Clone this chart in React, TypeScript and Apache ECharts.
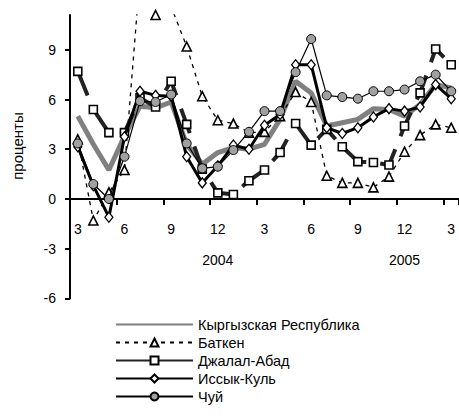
import React, { useEffect, useRef } from 'react';
import * as echarts from 'echarts';

const periods = ['2003-03','2003-04','2003-05','2003-06','2003-07','2003-08','2003-09','2003-10','2003-11','2003-12','2004-01','2004-02','2004-03','2004-04','2004-05','2004-06','2004-07','2004-08','2004-09','2004-10','2004-11','2004-12','2005-01','2005-02','2005-03'];
const monthLabels = ['3','4','5','6','7','8','9','10','11','12','1','2','3','4','5','6','7','8','9','10','11','12','1','2','3'];
const yearLabels: Record<number, string> = { 9: '2004', 21: '2005' };
const yTicks = [-6, -3, 0, 3, 6, 9];

const kyrgyz = [5.0, 3.3, 1.75, 3.8, 5.6, 5.5, 5.85, 3.3, 2.1, 2.8, 3.1, 3.0, 3.3, 4.8, 7.1, 6.4, 4.4, 4.6, 4.8, 5.45, 5.4, 5.0, 5.7, 6.9, 6.7];
const batken = [3.6, -1.3, 0.4, 1.75, 13.5, 11.1, 11.6, 9.2, 6.2, 4.75, 4.55, 4.0, 4.05, 5.0, 6.45, 5.85, 1.4, 0.97, 0.97, 0.7, 1.35, 2.85, 3.85, 4.5, 4.3];
const jalalAbad = [7.7, 5.4, 4.0, 4.0, 6.1, 5.55, 7.1, 4.5, 1.8, 0.37, 0.27, 1.1, 1.75, 2.8, 4.55, 3.25, 4.2, 3.15, 2.25, 2.2, 2.05, 4.4, 6.4, 9.05, 8.1];
const issykKul = [3.15, 0.8, -1.1, 3.75, 6.5, 6.25, 6.2, 2.55, 0.97, 2.0, 3.25, 3.0, 4.45, 5.1, 8.1, 8.1, 4.3, 3.95, 4.3, 4.95, 5.45, 5.3, 5.55, 6.9, 6.05];
const chui = [3.35, 0.9, 0.0, 2.55, 5.9, 5.85, 6.3, 3.35, 1.85, 1.95, 2.95, 4.05, 5.3, 5.3, 7.65, 9.65, 6.25, 6.15, 6.05, 6.5, 6.5, 6.6, 7.1, 7.5, 6.5];

const FONT = "'Liberation Sans', Arial, sans-serif";
const Y_MIN = -6;
const Y_MAX = 11.1;
const GRID_TOP = 15;
const GRID_H = 283.4;

export default function App() {
  const ref = useRef<HTMLDivElement>(null);
  useEffect(() => {
    if (!ref.current) return;
    const chart = echarts.init(ref.current, null, { renderer: 'svg' });
    const zeroOffset = -GRID_H * (0 - Y_MIN) / (Y_MAX - Y_MIN);
    const option: any = {
      animation: false,
      backgroundColor: '#ffffff',
      textStyle: { fontFamily: FONT, color: '#000' },
      grid: { left: 70, top: GRID_TOP, width: 395.8, height: GRID_H, containLabel: false },
      xAxis: {
        type: 'category',
        data: periods,
        boundaryGap: true,
        position: 'bottom',
        offset: zeroOffset,
        axisLine: { show: true, onZero: false, lineStyle: { color: '#000', width: 2 } },
        axisTick: { show: true, interval: 2, length: 6, lineStyle: { color: '#000', width: 2 } },
        axisLabel: {
          interval: 2,
          margin: 14.5,
          fontSize: 14,
          lineHeight: 31,
          fontFamily: FONT,
          color: '#000',
          formatter: (_v: string, i: number) => (yearLabels[i] ? `${monthLabels[i]}\n${yearLabels[i]}` : monthLabels[i]),
        },
        splitLine: { show: false },
      },
      yAxis: {
        type: 'value',
        min: Y_MIN,
        max: Y_MAX,
        interval: 3,
        axisLine: { show: true, lineStyle: { color: '#000', width: 2 } },
        axisTick: { show: true, length: 5, customValues: yTicks, lineStyle: { color: '#000', width: 2 } },
        axisLabel: { customValues: yTicks, margin: 14, fontSize: 14, fontFamily: FONT, color: '#000' },
        splitLine: { show: false },
      },
      legend: {
        orient: 'vertical',
        left: 110,
        top: 312,
        itemWidth: 77,
        itemHeight: 10,
        itemGap: 3,
        textStyle: { fontSize: 14.5, lineHeight: 15, fontFamily: FONT, color: '#000' },
        data: [
          { name: 'Кыргызская Республика', itemStyle: { opacity: 0 } },
          { name: 'Баткен' },
          { name: 'Джалал-Абад', lineStyle: { type: 'solid' } },
          { name: 'Иссык-Куль' },
          { name: 'Чуй' },
        ],
      },
      graphic: [
        {
          type: 'text',
          x: 17,
          y: 146,
          rotation: Math.PI / 2,
          style: { text: 'проценты', font: `15px ${FONT}`, fill: '#000', align: 'center', verticalAlign: 'middle' },
        },
      ],
      series: [
        {
          name: 'Кыргызская Республика',
          type: 'line',
          data: kyrgyz,
          symbol: 'none',
          lineStyle: { color: '#808080', width: 5 },
          itemStyle: { color: '#808080' },
          z: 1,
        },
        {
          name: 'Баткен',
          type: 'line',
          data: batken,
          symbol: 'triangle',
          symbolSize: 9,
          showAllSymbol: true,
          lineStyle: { color: '#000', width: 1.3, type: [4, 5] },
          itemStyle: { color: '#fff', borderColor: '#000', borderWidth: 1.6 },
          z: 2,
        },
        {
          name: 'Джалал-Абад',
          type: 'line',
          data: jalalAbad,
          symbol: 'rect',
          symbolSize: 8,
          showAllSymbol: true,
          lineStyle: { color: '#222', width: 4, type: [26, 14] },
          itemStyle: { color: '#fff', borderColor: '#000', borderWidth: 1.6 },
          z: 3,
        },
        {
          name: 'Иссык-Куль',
          type: 'line',
          data: issykKul,
          symbol: 'diamond',
          symbolSize: [8, 10],
          showAllSymbol: true,
          lineStyle: { color: '#000', width: 3 },
          itemStyle: { color: '#fff', borderColor: '#000', borderWidth: 1.3 },
          z: 4,
        },
        {
          name: 'Чуй',
          type: 'line',
          data: chui,
          symbol: 'circle',
          symbolSize: 9,
          showAllSymbol: true,
          lineStyle: { color: '#000', width: 1.2 },
          itemStyle: { color: '#a0a0a0', borderColor: '#000', borderWidth: 1 },
          z: 5,
        },
      ],
    };
    chart.setOption(option);
    return () => chart.dispose();
  }, []);
  return <div ref={ref} style={{ position: 'absolute', left: 0, top: 0, width: 459, height: 416 }} />;
}
